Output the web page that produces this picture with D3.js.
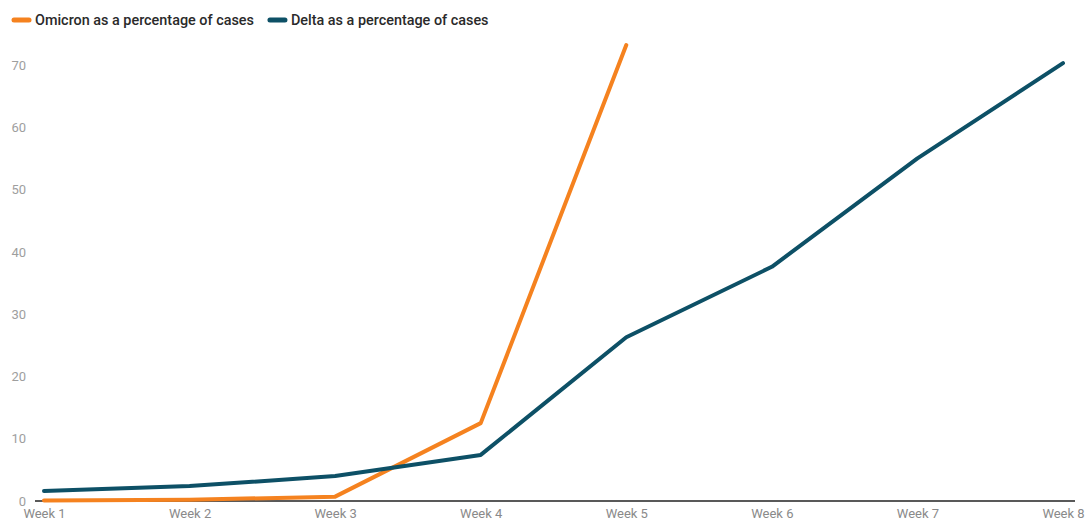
<!DOCTYPE html>
<html>
<head>
<meta charset="utf-8">
<script src="https://cdn.jsdelivr.net/npm/d3@7"></script>
<style>
  html, body { margin: 0; padding: 0; background: #fff; }
  svg { display: block; font-family: Roboto, "Noto Sans", sans-serif; }
</style>
</head>
<body>
<svg id="chart" width="1085" height="525"></svg>
<script>
// Weekly share of cases by variant
const weeks = ["Week 1", "Week 2", "Week 3", "Week 4", "Week 5", "Week 6", "Week 7", "Week 8"];
const omicronShare = [0.1, 0.2, 0.7, 12.5, 73.2];
const deltaShare = [1.6, 2.4, 4.0, 7.4, 26.3, 37.6, 55.0, 70.3];
const yTicks = [0, 10, 20, 30, 40, 50, 60, 70];

const seriesNames = ["Omicron as a percentage of cases", "Delta as a percentage of cases"];
const seriesColors = ["#f5821f", "#0d5066"];

const svg = d3.select("#chart");

const x = d3.scalePoint().domain(weeks).range([44, 1063]);
const y = d3.scaleLinear().domain([0, 70]).range([501, 65]);

// y-axis labels (no axis line)
const yAxis = svg.append("g")
  .attr("transform", "translate(26,0)")
  .call(d3.axisLeft(y).tickValues(yTicks).tickSize(0).tickPadding(0));
yAxis.select(".domain").remove();
yAxis.selectAll("text")
  .attr("fill", "#9e9e9e")
  .attr("font-size", 13)
  .attr("font-family", "Roboto, sans-serif");

// x-axis labels
const xAxis = svg.append("g")
  .attr("transform", "translate(0,509)")
  .call(d3.axisBottom(x).tickSize(0).tickPadding(0));
xAxis.select(".domain").remove();
xAxis.selectAll("text")
  .attr("fill", "#8a8a8a")
  .attr("font-size", 13)
  .attr("font-family", "Roboto, sans-serif");

// baseline
svg.append("line")
  .attr("x1", 35).attr("x2", 1075)
  .attr("y1", y(0)).attr("y2", y(0))
  .attr("stroke", "#222")
  .attr("stroke-width", 1.5);

const line = d3.line()
  .x((d, i) => x(weeks[i]))
  .y(d => y(d));

[omicronShare, deltaShare].forEach((vals, k) => {
  svg.append("path")
    .datum(vals)
    .attr("fill", "none")
    .attr("stroke", seriesColors[k])
    .attr("stroke-width", 4)
    .attr("stroke-linejoin", "round")
    .attr("stroke-linecap", "round")
    .attr("d", line);
});

// legend
const legend = svg.append("g").attr("transform", "translate(12,20)");
let lx = 0;
seriesNames.forEach((name, k) => {
  const g = legend.append("g").attr("transform", `translate(${lx},0)`);
  g.append("line")
    .attr("x1", 2).attr("x2", 17)
    .attr("y1", 0).attr("y2", 0)
    .attr("stroke", seriesColors[k])
    .attr("stroke-width", 5)
    .attr("stroke-linecap", "round");
  const t = g.append("text")
    .attr("x", 23).attr("y", 0)
    .attr("dy", "0.35em")
    .attr("fill", "#2a2a2a")
    .attr("font-size", 14.4)
    .attr("font-weight", 500)
    .text(name);
  lx += 23 + t.node().getComputedTextLength() + 14;
});
</script>
</body>
</html>
